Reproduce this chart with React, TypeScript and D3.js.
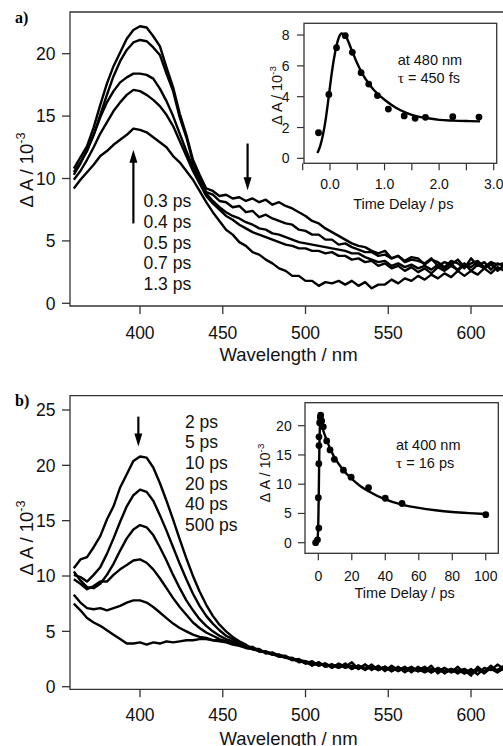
import React from "react";
import * as d3 from "d3";

// ---------- DATA ----------
const wavelengths = [360,364,368,372,376,380,384,388,392,396,400,404,408,412,416,420,424,428,432,436,440,444,448,452,456,460,464,468,472,476,480,484,488,492,496,500,504,508,512,516,520,524,528,532,536,540,544,548,552,556,560,564,568,572,576,580,584,588,592,596,600,604,608,612,616,620];

// Panel a spectra (ΔA / 1e-3)
const specA_03 = [10.8,11.7,12.6,14.1,15.9,17.6,19.0,20.1,21.2,21.9,22.2,22.1,21.4,20.6,18.9,17.3,15.2,13.5,11.5,10.3,9.2,9.0,8.6,8.7,8.4,8.5,8.2,8.4,8.1,8.3,7.9,8.1,7.8,7.6,7.3,7.0,6.6,6.4,6.0,5.7,5.4,5.1,4.8,4.6,4.5,4.2,4.0,4.2,3.6,3.8,3.4,3.7,3.6,3.1,3.5,3.3,2.9,3.4,3.2,2.8,3.6,3.0,3.3,2.7,3.2,3.0];
const specA_04 = [10.5,11.3,12.2,13.5,15.1,16.7,18.2,19.4,20.3,20.9,21.1,21.0,20.5,19.9,18.4,17.0,14.9,13.3,11.3,10.1,8.9,8.7,8.2,8.1,7.7,7.8,7.3,7.4,6.9,7.1,6.8,6.6,6.4,6.3,5.9,5.8,5.5,5.5,5.1,5.1,4.7,4.8,4.5,4.3,4.1,4.1,3.8,3.9,3.6,3.8,3.3,3.5,3.4,3.2,3.6,3.0,3.3,3.1,3.5,2.9,3.2,3.4,2.9,3.3,3.1,3.2];
const specA_05 = [10.3,11.2,12.3,13.5,14.9,16.1,17.0,17.7,18.1,18.4,18.4,18.3,18.0,17.2,16.2,15.0,13.6,12.2,10.9,9.8,8.8,8.2,7.7,7.3,7.0,6.8,6.5,6.3,6.0,5.9,5.6,5.5,5.3,5.1,4.9,4.8,4.7,4.6,4.5,4.4,4.3,4.2,4.0,4.0,3.7,3.5,3.3,3.4,3.0,3.2,2.9,3.1,2.8,3.0,2.7,3.1,2.8,3.2,2.6,3.1,2.9,3.3,2.8,3.1,2.7,3.0];
const specA_07 = [9.9,10.6,11.5,12.5,13.6,14.5,15.4,16.1,16.7,17.1,17.0,16.7,16.3,15.8,15.1,14.2,13.0,11.8,10.6,9.6,8.6,8.0,7.5,7.0,6.7,6.3,6.0,5.7,5.5,5.3,5.1,4.9,4.7,4.6,4.4,4.4,4.2,4.2,4.0,4.1,3.8,3.8,3.5,3.6,3.3,3.4,3.0,3.2,2.8,3.0,2.6,2.9,2.5,2.8,2.4,2.9,2.6,3.0,2.7,3.2,2.6,3.1,2.8,3.3,2.6,3.0];
const specA_13 = [9.2,9.9,10.5,11.1,11.8,12.2,12.7,13.1,13.5,14.0,13.9,13.7,13.3,12.9,12.5,11.8,11.3,10.6,9.9,9.0,8.1,7.3,6.6,5.9,5.5,4.9,4.6,4.1,3.9,3.5,3.2,2.8,2.6,2.2,2.2,1.8,1.8,1.4,1.7,1.6,1.8,1.5,1.8,1.4,1.7,1.2,1.5,1.5,1.9,1.6,2.0,1.8,2.2,1.9,2.3,2.0,2.4,2.1,2.6,2.2,2.6,2.3,2.8,2.4,2.9,2.6];
const labelsA = ["0.3 ps", "0.4 ps", "0.5 ps", "0.7 ps", "1.3 ps"];

// Panel b spectra
const specB_2 = [10.7,11.5,11.7,12.6,13.6,15.1,16.3,18.0,19.2,20.4,20.8,20.7,19.8,18.4,16.8,15.1,13.3,11.6,10.0,8.6,7.4,6.4,5.6,5.0,4.5,4.1,3.8,3.4,3.4,3.0,3.1,2.8,2.8,2.4,2.5,2.1,2.3,1.9,2.1,1.7,2.1,1.8,2.2,1.6,2.0,1.5,1.9,1.4,1.9,1.5,1.8,1.3,1.8,1.4,1.9,1.2,1.7,1.3,1.8,1.2,1.6,1.1,1.7,1.5,2.0,1.6];
const specB_5 = [10.1,9.9,9.5,10.1,10.8,12.0,13.4,14.9,16.3,17.3,17.8,17.6,16.8,15.5,14.1,12.6,11.1,9.7,8.4,7.3,6.4,5.7,5.1,4.6,4.3,4.0,3.6,3.6,3.2,3.2,2.9,2.9,2.6,2.6,2.2,2.3,1.9,2.2,1.8,2.0,1.7,2.1,1.6,1.9,1.6,2.0,1.5,1.8,1.4,1.8,1.3,1.7,1.5,1.8,1.3,1.7,1.2,1.6,1.4,1.5,1.0,1.8,1.3,1.9,1.4,1.8];
const specB_10 = [10.4,9.6,9.0,8.9,9.3,10.1,11.1,12.3,13.4,14.2,14.6,14.4,13.7,12.6,11.4,10.1,8.9,7.8,6.9,6.1,5.5,5.0,4.6,4.3,4.1,3.8,3.7,3.4,3.3,3.1,3.0,2.7,2.7,2.4,2.4,2.1,2.2,1.9,2.1,1.8,2.0,1.7,1.9,1.6,2.0,1.6,1.8,1.5,1.7,1.4,1.7,1.5,1.6,1.3,1.6,1.4,1.7,1.3,1.5,1.2,1.4,1.6,1.2,1.7,1.5,1.9];
const specB_20 = [9.7,9.3,8.8,9.1,9.5,9.5,10.1,10.6,11.0,11.4,11.5,11.2,10.6,9.8,8.9,8.0,7.2,6.5,5.8,5.3,4.9,4.6,4.3,4.1,3.9,3.8,3.5,3.5,3.2,3.2,2.9,2.9,2.6,2.6,2.3,2.3,2.0,2.2,1.8,2.0,1.7,2.0,1.6,1.9,1.5,1.9,1.6,1.8,1.4,1.7,1.5,1.8,1.4,1.6,1.3,1.7,1.4,1.6,1.2,1.6,1.3,1.5,1.4,1.8,1.3,1.7];
const specB_40 = [8.3,7.6,7.1,7.0,7.1,6.9,7.1,7.3,7.6,7.8,7.8,7.6,7.2,6.7,6.2,5.7,5.3,5.0,4.7,4.5,4.4,4.2,4.1,4.0,3.8,3.7,3.5,3.4,3.2,3.1,3.0,2.8,2.7,2.5,2.4,2.3,2.1,2.1,1.9,2.0,1.8,1.9,1.7,1.8,1.6,1.8,1.5,1.8,1.5,1.7,1.4,1.7,1.4,1.6,1.5,1.5,1.3,1.6,1.3,1.5,1.2,1.6,1.3,1.7,1.4,1.6];
const specB_500 = [7.5,6.9,6.2,5.8,5.5,5.1,4.7,4.3,3.9,3.9,4.0,3.8,4.0,3.9,4.1,4.0,4.1,4.2,4.2,4.3,4.3,4.2,4.2,4.1,3.9,3.8,3.6,3.4,3.3,3.1,2.9,2.8,2.6,2.5,2.3,2.2,2.0,2.1,1.9,2.0,1.8,2.0,1.7,1.9,1.6,1.8,1.6,1.7,1.5,1.7,1.4,1.6,1.4,1.7,1.3,1.6,1.3,1.5,1.4,1.6,1.1,1.5,1.4,1.6,1.3,1.8];
const labelsB = ["2 ps", "5 ps", "10 ps", "20 ps", "40 ps", "500 ps"];

const xTicksMain = [400, 450, 500, 550, 600];
const yTicksA = [0, 5, 10, 15, 20];
const yTicksB = [0, 5, 10, 15, 20, 25];

// Inset a kinetics at 480 nm
const kinATime = [-0.21,-0.02,0.12,0.28,0.41,0.57,0.71,0.87,1.07,1.36,1.56,1.75,2.25,2.73];
const kinAValue = [1.66,4.15,7.18,7.96,6.88,5.56,4.82,4.07,3.2,2.75,2.6,2.66,2.7,2.68];
const fitATime = [-0.23,-0.18,-0.13,-0.08,-0.03,0.02,0.07,0.12,0.17,0.21,0.25,0.3,0.4,0.5,0.6,0.7,0.8,0.9,1.0,1.2,1.4,1.6,1.8,2.0,2.25,2.5,2.75];
const fitAValue = [0.35,0.8,1.5,2.5,3.8,5.2,6.4,7.3,7.9,8.1,8.05,7.85,7.0,6.15,5.45,4.9,4.45,4.1,3.8,3.3,2.95,2.72,2.6,2.5,2.45,2.42,2.4];
const insetAXTicks = [-0.5,0,0.5,1,1.5,2,2.5,3];
const insetAXLabels = [0, 1, 2, 3];
const insetAYTicks = [0, 2, 4, 6, 8];

// Inset b kinetics at 400 nm
const kinBTime = [-1.6,-0.5,0.3,0,0.3,0.4,0.4,0.8,1.2,1.4,2.0,3.0,5,7,9.6,15,19.6,30,40,50,100];
const kinBValue = [0,0.5,2.5,7.7,13.5,16.6,18.1,20.5,21.4,21.8,20.8,19.8,17.4,15.85,14.25,12.4,11.2,9.4,7.6,6.7,4.8];
const fitBTime = [-1.6,-0.5,0,0.3,0.6,1.0,1.4,1.8,2.5,4,6,8,10,15,20,25,30,40,50,60,70,80,90,100];
const fitBValue = [0.1,0.6,3.5,9,15.5,20.2,21.5,20.8,19.7,18.3,16.8,15.5,14.4,12.4,10.9,9.7,8.8,7.4,6.5,5.95,5.55,5.25,5.05,4.9];
const insetBXTicks = [0, 20, 40, 60, 80, 100];
const insetBYTicks = [0, 5, 10, 15, 20];

// ---------- LAYOUT ----------
const W = 503, H = 746;
const SANS = "'Liberation Sans', Arial, Helvetica, sans-serif";
const SERIF = "'Liberation Serif', 'Times New Roman', serif";
const INK = "#111";
const AXIS = "#333";

const xMain = d3.scaleLinear().domain([357.7, 625]).range([70, 512.4]);
const yA = d3.scaleLinear().domain([-0.216, 23.34]).range([306, 12]);
const yB = d3.scaleLinear().domain([-0.235, 26.29]).range([689.3, 395.7]);

const xInA = d3.scaleLinear().domain([-0.476, 3.055]).range([304, 496.7]);
const yInA = d3.scaleLinear().domain([-0.32, 8.76]).range([163.3, 23.3]);
const xInB = d3.scaleLinear().domain([-7.95, 107.5]).range([305, 498.3]);
const yInB = d3.scaleLinear().domain([-1.81, 23.93]).range([553.3, 402.7]);

function Arrow({ x, y1, y2 }: { x: number; y1: number; y2: number }) {
  const dir = Math.sign(y2 - y1);
  const hl = 13, hw = 4;
  const base = y2 - dir * hl;
  return (
    <g>
      <line x1={x} y1={y1} x2={x} y2={base + dir * 1} stroke="#000" strokeWidth={2.2} />
      <path d={`M${x},${y2}L${x - hw},${base}L${x + hw},${base}Z`} fill="#000" />
    </g>
  );
}

function YTitle({ x, cy, size }: { x: number; cy: number; size: number }) {
  return (
    <text
      transform={`translate(${x},${cy}) rotate(-90)`}
      textAnchor="middle"
      fontFamily={SANS}
      fontSize={size}
      fill={INK}
    >
      Δ A / 10
      <tspan fontSize={size * 0.68} dy={-size * 0.42}>-3</tspan>
    </text>
  );
}

function MainPanel({
  y, yTicks, series, tickLabelCY, titleBaseline, yTitleCY,
}: {
  y: d3.ScaleLinear<number, number>;
  yTicks: number[];
  series: number[][];
  tickLabelCY: number;
  titleBaseline: number;
  yTitleCY: number;
}) {
  const [bottom, top] = y.range();
  const line = d3
    .line<number>()
    .x((_, i) => xMain(wavelengths[i]))
    .y((d) => y(d));
  return (
    <g>
      {series.map((s, i) => (
        <path key={i} d={line(s) || ""} fill="none" stroke="#000" strokeWidth={2.4} strokeLinejoin="round" />
      ))}
      <path d={`M${W + 2},${top}H70V${bottom}H${W + 2}`} fill="none" stroke={AXIS} strokeWidth={1.3} />
      {yTicks.map((t) => (
        <g key={t}>
          <line x1={62} x2={70} y1={y(t)} y2={y(t)} stroke={AXIS} strokeWidth={1.3} />
          <text x={55.5} y={y(t)} dy="0.36em" textAnchor="end" fontFamily={SANS} fontSize={17.5} fill={INK}>
            {t}
          </text>
        </g>
      ))}
      {xTicksMain.map((t) => (
        <g key={t}>
          <line x1={xMain(t)} x2={xMain(t)} y1={bottom} y2={bottom + 8} stroke={AXIS} strokeWidth={1.3} />
          <text x={xMain(t)} y={tickLabelCY} dy="0.36em" textAnchor="middle" fontFamily={SANS} fontSize={17.5} fill={INK}>
            {t}
          </text>
        </g>
      ))}
      <text x={288.5} y={titleBaseline} textAnchor="middle" fontFamily={SANS} fontSize={18.5} fill={INK}>
        Wavelength / nm
      </text>
      <YTitle x={33} cy={yTitleCY} size={18.5} />
    </g>
  );
}

function Inset({
  x, y, xTicks, xLabels, yTicks, pts, fit, xLabelFmt, tickLabelBase, titleBase, yTitleX, yTitleCY, yLabelRight, text1, text2, textX, text1Base, text2Base,
}: any) {
  const [x0, x1] = x.range();
  const [b, t] = y.range();
  const line = d3
    .line<number>()
    .x((_: number, i: number) => x(fit[0][i]))
    .y((d: number) => y(d))
    .curve(d3.curveMonotoneX);
  return (
    <g>
      <rect x={x0} y={t} width={x1 - x0} height={b - t} fill="#fff" stroke={AXIS} strokeWidth={1.3} />
      <path d={line(fit[1]) || ""} fill="none" stroke="#000" strokeWidth={2.4} strokeLinejoin="round" />
      {pts[0].map((tt: number, i: number) => (
        <circle key={i} cx={x(tt)} cy={y(pts[1][i])} r={3.4} fill="#000" />
      ))}
      {yTicks.map((v: number) => (
        <g key={v}>
          <line x1={x0 - 7} x2={x0} y1={y(v)} y2={y(v)} stroke={AXIS} strokeWidth={1.2} />
          <text x={yLabelRight} y={y(v)} dy="0.36em" textAnchor="end" fontFamily={SANS} fontSize={14} fill={INK}>
            {v}
          </text>
        </g>
      ))}
      {xTicks.map((v: number) => (
        <line key={v} x1={x(v)} x2={x(v)} y1={b} y2={b + 7} stroke={AXIS} strokeWidth={1.2} />
      ))}
      {xLabels.map((v: number) => (
        <text key={v} x={x(v)} y={tickLabelBase} textAnchor="middle" fontFamily={SANS} fontSize={14} fill={INK}>
          {xLabelFmt(v)}
        </text>
      ))}
      <text x={(x0 + x1) / 2 + 3} y={titleBase} textAnchor="middle" fontFamily={SANS} fontSize={14.5} fill={INK}>
        Time Delay / ps
      </text>
      <YTitle x={yTitleX} cy={yTitleCY} size={14.5} />
      <text x={textX} y={text1Base} fontFamily={SANS} fontSize={14.5} fill={INK}>{text1}</text>
      <text x={textX} y={text2Base} fontFamily={SANS} fontSize={14.5} fill={INK}>
        <tspan fontFamily={SERIF} fontSize={15.5}>τ</tspan>
        {text2}
      </text>
    </g>
  );
}

export default function App() {
  const seriesA = [specA_03, specA_04, specA_05, specA_07, specA_13];
  const seriesB = [specB_2, specB_5, specB_10, specB_20, specB_40, specB_500];
  return (
    <svg
      width={W}
      height={H}
      viewBox={`0 0 ${W} ${H}`}
      style={{ position: "absolute", left: 0, top: 0, background: "#fff" }}
    >
      <rect x={0} y={0} width={W} height={H} fill="#fff" />

      {/* Panel a */}
      <text x={15} y={22.5} fontFamily={SERIF} fontWeight="bold" fontSize={16} fill="#000">a)</text>
      <MainPanel y={yA} yTicks={yTicksA} series={seriesA} tickLabelCY={332.4} titleBaseline={361} yTitleCY={170} />
      <Arrow x={xMain(396)} y1={yA(6.4)} y2={yA(12.3)} />
      <Arrow x={xMain(465)} y1={yA(12.8)} y2={yA(9.06)} />
      {labelsA.map((l, i) => (
        <text key={l} x={143.5} y={207.3 + i * 20.7} fontFamily={SANS} fontSize={17.5} fill={INK}>{l}</text>
      ))}
      <Inset
        x={xInA}
        y={yInA}
        xTicks={insetAXTicks}
        xLabels={insetAXLabels}
        yTicks={insetAYTicks}
        pts={[kinATime, kinAValue]}
        fit={[fitATime, fitAValue]}
        xLabelFmt={(v: number) => v.toFixed(1)}
        tickLabelBase={188.5}
        titleBase={208.5}
        yTitleX={282}
        yTitleCY={95.5}
        yLabelRight={289.5}
        text1="at 480 nm"
        text2=" = 450 fs"
        textX={397.7}
        text1Base={65}
        text2Base={82.7}
      />

      {/* Panel b */}
      <text x={15} y={406} fontFamily={SERIF} fontWeight="bold" fontSize={16} fill="#000">b)</text>
      <MainPanel y={yB} yTicks={yTicksB} series={seriesB} tickLabelCY={714.2} titleBaseline={745} yTitleCY={538} />
      <Arrow x={xMain(399)} y1={yB(24.4)} y2={yB(21.7)} />
      {labelsB.map((l, i) => (
        <text key={l} x={185} y={427.5 + i * 20.7} fontFamily={SANS} fontSize={17.5} fill={INK}>{l}</text>
      ))}
      <Inset
        x={xInB}
        y={yInB}
        xTicks={insetBXTicks}
        xLabels={insetBXTicks}
        yTicks={insetBYTicks}
        pts={[kinBTime, kinBValue]}
        fit={[fitBTime, fitBValue]}
        xLabelFmt={(v: number) => String(v)}
        tickLabelBase={580.5}
        titleBase={597.5}
        yTitleX={270}
        yTitleCY={473}
        yLabelRight={291.7}
        text1="at 400 nm"
        text2=" = 16 ps"
        textX={396}
        text1Base={450}
        text2Base={467.5}
      />
    </svg>
  );
}
